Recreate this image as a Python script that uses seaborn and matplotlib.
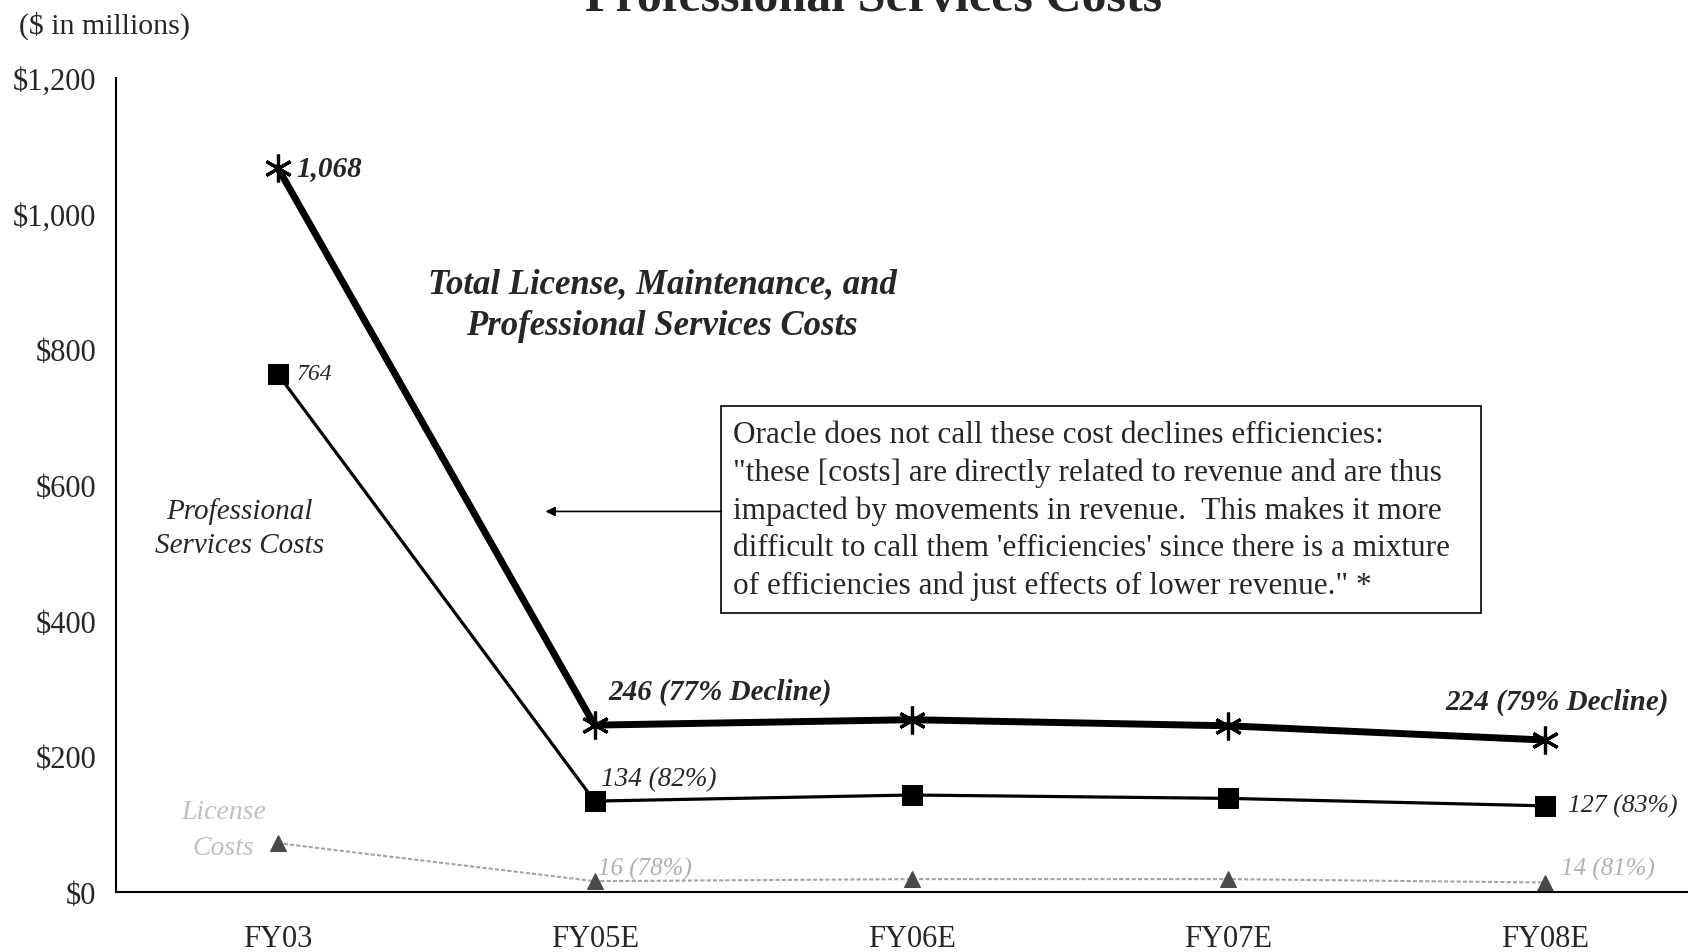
import matplotlib
matplotlib.use("Agg")
import matplotlib.pyplot as plt
from matplotlib.patches import Rectangle
import seaborn as sns
import pandas as pd

years = ["FY03", "FY05E", "FY06E", "FY07E", "FY08E"]
total_costs = [1068, 246, 254, 245, 224]
prof_services = [764, 134, 143, 138, 127]
license_costs = [72, 16, 19, 19, 14]
yticks = [0, 200, 400, 600, 800, 1000, 1200]

sns.set_theme(style="white")
plt.rcParams["font.family"] = ["Liberation Serif", "DejaVu Serif"]

fig = plt.figure(figsize=(16.88, 9.53), dpi=100)
ax = fig.add_axes([116 / 1688, 1 - 893 / 953, 1 - 116 / 1688, (893 - 79) / 953])

df = pd.DataFrame({"year": years, "total": total_costs, "ps": prof_services, "lic": license_costs})
df["x"] = range(len(years))

sns.lineplot(data=df, x="x", y="lic", ax=ax, color="#a5a5a5", lw=1.5, ls=(0, (2, 1)),
             marker="^", markersize=11, markeredgecolor="#4a4a4a", markerfacecolor="#4a4a4a")
sns.lineplot(data=df, x="x", y="ps", ax=ax, color="black", lw=2.3,
             marker="s", markersize=15, markeredgecolor="black", markerfacecolor="black")
sns.lineplot(data=df, x="x", y="total", ax=ax, color="black", lw=5,
             marker=(6, 2, 0), markersize=20, markeredgewidth=2.3, markeredgecolor="black")

ax.set_xlim(-0.51, 4.45)
ax.set_ylim(0, 1200)
ax.set_yticks(yticks)
ax.set_yticklabels([f"${v:,}" for v in yticks], fontsize=22)
ax.set_xticks(range(len(years)))
ax.set_xticklabels(years, fontsize=22)
ax.tick_params(axis="both", length=0)
ax.tick_params(axis="x", pad=23)
ax.tick_params(axis="y", pad=14)
ax.set_xlabel("")
ax.set_ylabel("")
for s in ["top", "right"]:
    ax.spines[s].set_visible(False)
for s in ["left", "bottom"]:
    ax.spines[s].set_color("black")
    ax.spines[s].set_linewidth(1.5)

# point labels
ax.text(0.06, total_costs[0], f"{total_costs[0]:,}", fontsize=21, fontweight="bold",
        fontstyle="italic", va="center", ha="left")
ax.text(0.06, prof_services[0], f"{prof_services[0]}", fontsize=17, fontstyle="italic",
        va="center", ha="left")
ax.text(1.045, total_costs[1] + 50, f"{total_costs[1]} (77% Decline)", fontsize=21,
        fontweight="bold", fontstyle="italic", va="center", ha="left")
ax.text(4.39, total_costs[4] + 57, f"{total_costs[4]} (79% Decline)", fontsize=21,
        fontweight="bold", fontstyle="italic", va="center", ha="right")
ax.text(1.02, prof_services[1] + 33, f"{prof_services[1]} (82%)", fontsize=19.5,
        fontstyle="italic", va="center", ha="left")
ax.text(4.07, prof_services[4] + 1, f"{prof_services[4]} (83%)", fontsize=18.5,
        fontstyle="italic", va="center", ha="left")
ax.text(1.01, license_costs[1] + 19, f"{license_costs[1]} (78%)", fontsize=18,
        fontstyle="italic", color="#b0b0b0", va="center", ha="left")
ax.text(4.05, license_costs[4] + 21, f"{license_costs[4]} (81%)", fontsize=18,
        fontstyle="italic", color="#b0b0b0", va="center", ha="left")

# series labels
ax.text(-0.12, 537, "Professional\nServices Costs", fontsize=21, fontstyle="italic",
        ha="center", va="center", linespacing=1.4)
ax.text(-0.17, 92, "License\nCosts", fontsize=20, fontstyle="italic", color="#c0c0c0",
        ha="center", va="center", linespacing=1.55)
ax.text(1.213, 866, "Total License, Maintenance, and\nProfessional Services Costs",
        fontsize=25, fontweight="bold", fontstyle="italic", ha="center", va="center",
        linespacing=1.35)

# annotation box with arrow
box_text = ("Oracle does not call these cost declines efficiencies:\n"
            "\"these [costs] are directly related to revenue and are thus\n"
            "impacted by movements in revenue.  This makes it more\n"
            "difficult to call them 'efficiencies' since there is a mixture\n"
            "of efficiencies and just effects of lower revenue.\" *")
ax.add_patch(Rectangle((1.400, 412), 3.796 - 1.400, 716 - 412, fc="white", ec="black",
                       lw=1.2, zorder=3))
ax.text(1.437, 563, box_text, fontsize=22.5, ha="left", va="center", linespacing=1.38,
        zorder=4)
ax.annotate("", xy=(0.845, 561), xytext=(1.400, 561),
            arrowprops=dict(arrowstyle="-|>", color="black", lw=1.2, mutation_scale=14,
                            shrinkA=0, shrinkB=0))

fig.text(19 / 1688, 1 - 26 / 953, "($ in millions)", fontsize=21.5, ha="left", va="center")
fig.text(874 / 1688, 1 - 11 / 953, "Professional Services Costs", fontsize=36,
         fontweight="bold", ha="center", va="baseline")

fig.savefig("out.png", dpi=100)
